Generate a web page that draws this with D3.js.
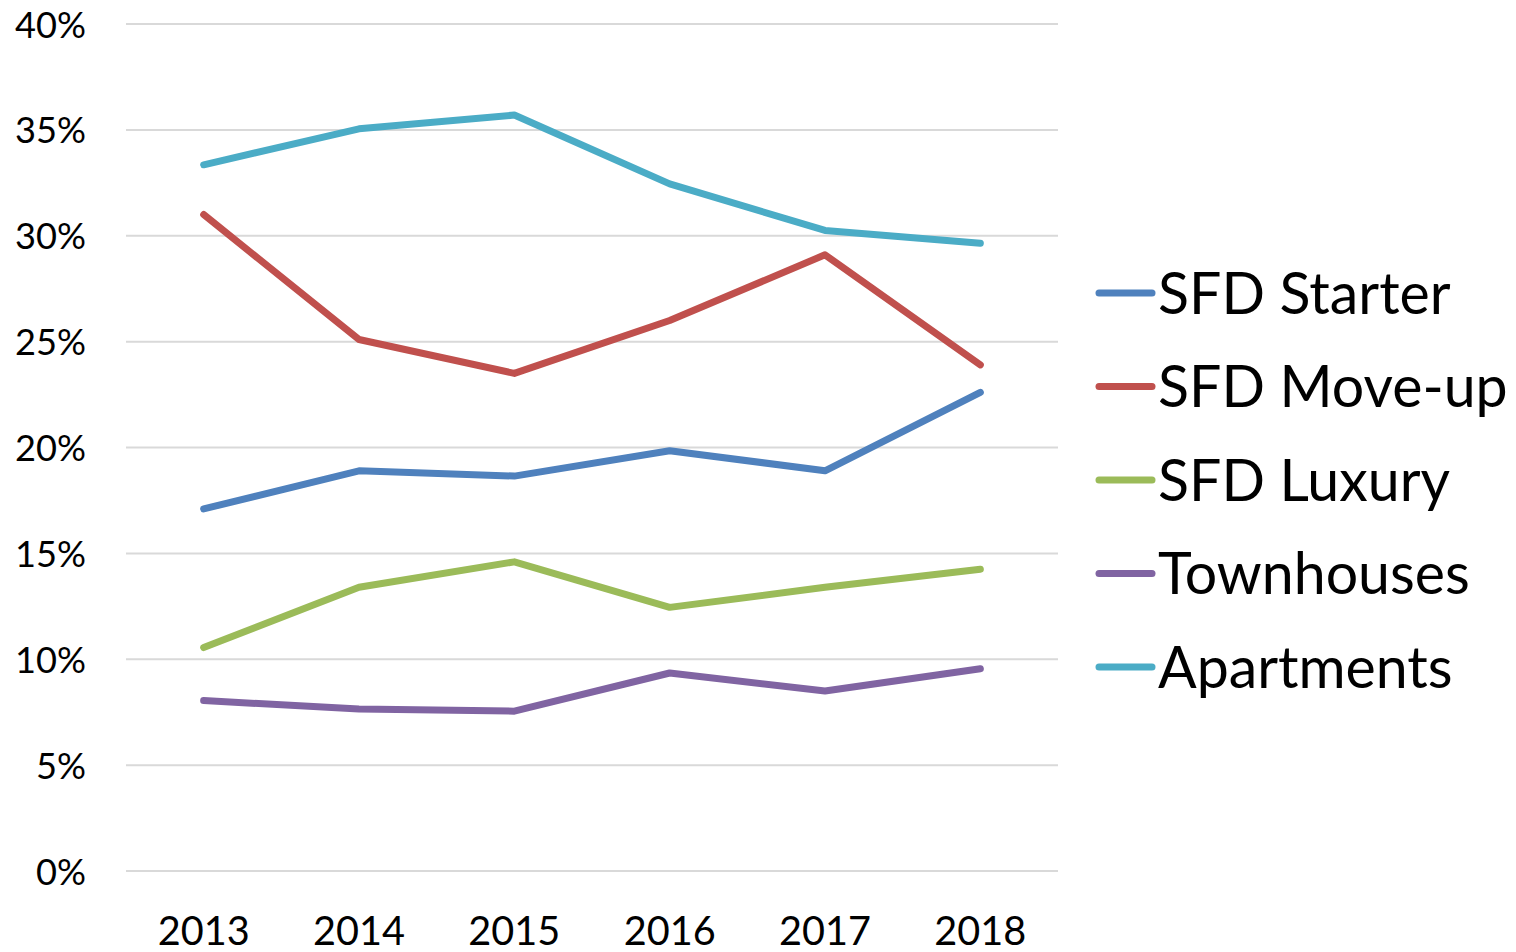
<!DOCTYPE html>
<html><head><meta charset="utf-8">
<script src="https://cdn.jsdelivr.net/npm/d3@7"></script>
<style>body{margin:0;background:#fff}svg{display:block}</style>
</head><body>
<svg id="c" width="1516" height="952"></svg>
<script>
const years = ["2013","2014","2015","2016","2017","2018"];
const seriesNames = ["SFD Starter","SFD Move-up","SFD Luxury","Townhouses","Apartments"];
const seriesColors = ["#4f81bd","#c0504d","#9bbb59","#8064a2","#4bacc6"];
const starter = [17.1, 18.9, 18.65, 19.85, 18.9, 22.6];
const moveUp = [31.0, 25.1, 23.5, 26.0, 29.1, 23.9];
const luxury = [10.55, 13.4, 14.6, 12.45, 13.4, 14.25];
const townhouses = [8.05, 7.65, 7.55, 9.35, 8.5, 9.55];
const apartments = [33.35, 35.05, 35.7, 32.45, 30.25, 29.65];
const yTicks = [0,5,10,15,20,25,30,35,40];
const seriesValues = [starter, moveUp, luxury, townhouses, apartments];

const FONT = "Lato, 'Open Sans', sans-serif";
const svg = d3.select("#c");
const x = d3.scaleBand().domain(years).range([126,1058]);
const y = d3.scaleLinear().domain([0,40]).range([871,24]);

function fitSize(texts, targetW){
  let w = 0;
  texts.forEach(s=>{
    const t = svg.append("text").attr("font-family",FONT).attr("font-size",100).text(s);
    w += t.node().getComputedTextLength(); t.remove();
  });
  return 100*targetW/w;
}
const tickSize = fitSize(["40%"], 71);
const yearSize = fitSize(["2013"], 92);
const legSize = fitSize(seriesNames, 289+344+282+322+304);

// gridlines
svg.append("g").selectAll("line").data(yTicks).join("line")
  .attr("x1",126).attr("x2",1058)
  .attr("y1",d=>y(d)).attr("y2",d=>y(d))
  .attr("stroke","#d9d9d9").attr("stroke-width",2);

// y axis labels
const yAxis = svg.append("g").attr("transform","translate(86,0)")
  .call(d3.axisLeft(y).tickValues(yTicks).tickFormat(d=>d+"%").tickSize(0).tickPadding(0));
yAxis.select(".domain").remove();
yAxis.selectAll("text").attr("font-family",FONT).attr("font-size",tickSize).attr("fill","#000").attr("dy","0.36em");

// x axis labels
const xAxis = svg.append("g").attr("transform","translate(0,871)")
  .call(d3.axisBottom(x).tickSize(0).tickPadding(0));
xAxis.select(".domain").remove();
xAxis.selectAll("text").attr("font-family",FONT).attr("font-size",yearSize).attr("fill","#000").attr("dy",null).attr("y",74);

// lines
const line = d3.line().x((d,i)=>x(years[i])+x.bandwidth()/2).y(d=>y(d));
svg.append("g").selectAll("path").data(seriesValues).join("path")
  .attr("d",line).attr("fill","none")
  .attr("stroke",(d,i)=>seriesColors[i]).attr("stroke-width",7)
  .attr("stroke-linecap","round").attr("stroke-linejoin","round");

// legend
const leg = svg.append("g").selectAll("g").data(seriesNames).join("g")
  .attr("transform",(d,i)=>`translate(0,${293+i*93.5})`);
leg.append("line").attr("x1",1099).attr("x2",1152).attr("y1",0).attr("y2",0)
  .attr("stroke",(d,i)=>seriesColors[i]).attr("stroke-width",7).attr("stroke-linecap","round");
leg.append("text").attr("x",1158).attr("y",0).attr("dy","0.36em")
  .attr("font-family",FONT).attr("font-size",legSize).attr("fill","#000").text(d=>d);
</script>
</body></html>
